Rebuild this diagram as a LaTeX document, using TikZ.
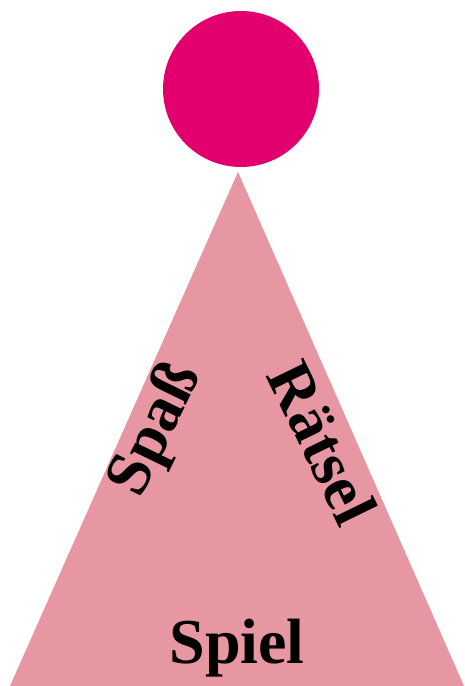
\documentclass[tikz,border=0pt]{standalone}
\usepackage{fontspec}
\setmainfont{Liberation Serif}
\usepackage{tikz}

\definecolor{ballpink}{RGB}{226,0,110}
\definecolor{hatpink}{RGB}{231,151,162}

\begin{document}
\begin{tikzpicture}[
  x=1pt,y=1pt,
  word/.style={inner sep=0pt,font=\fontsize{64}{70}\selectfont\bfseries}
]
\useasboundingbox (0,0) rectangle (464,686);
\coordinate (top) at (238,514);
\coordinate (bl) at (10,0);
\coordinate (br) at (464,0);
\fill[hatpink] (top)--(bl)--(br)--cycle;
\fill[ballpink] (241,597) circle (78);
\node[word,rotate=64] (fun) at (157,256) {Spaß};
\node[word,rotate=-64] (puzzle) at (323,243) {Rätsel};
\node[word,anchor=base] (game) at (237,23) {Spiel};
\end{tikzpicture}
\end{document}
